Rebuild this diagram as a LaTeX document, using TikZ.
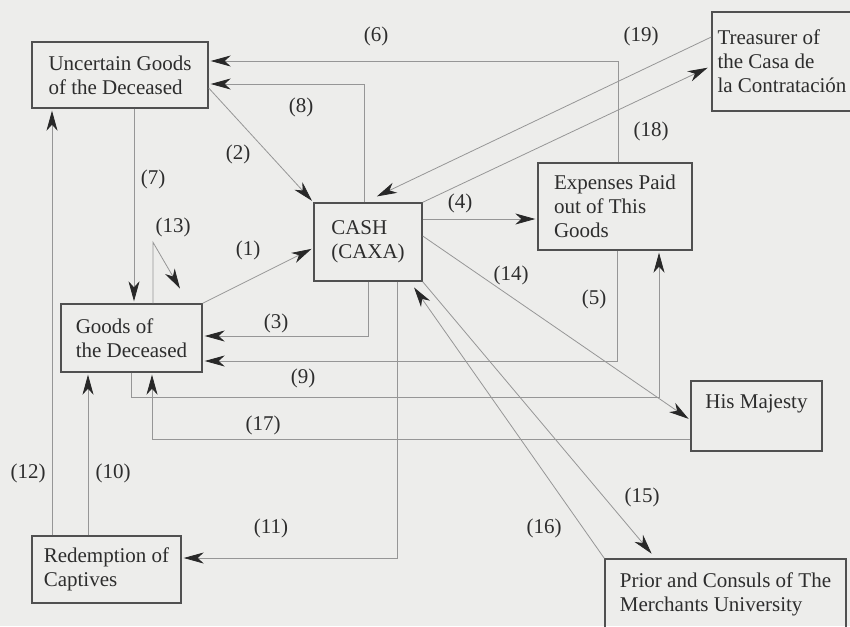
\documentclass[tikz,border=0pt]{standalone}
\usepackage{fontspec}
\setmainfont{Liberation Serif}
\usetikzlibrary{arrows.meta,positioning}
\definecolor{paper}{RGB}{237,237,235}
\definecolor{boxgray}{RGB}{80,80,80}
\definecolor{linegray}{RGB}{150,150,150}
\definecolor{tipgray}{RGB}{40,40,40}
\definecolor{inkgray}{RGB}{45,45,45}

\begin{document}
\begin{tikzpicture}[x=1pt,y=-1pt,>={Stealth[length=20pt,width=11pt,inset=6pt,color=tipgray]},
  every node/.style={text=inkgray,font=\fontsize{21}{24}\selectfont},
  account/.style={draw=boxgray,line width=1.4pt,align=left,inner sep=0pt},
  flow/.style={->,draw=linegray,line width=0.8pt,shorten >=2pt}]
\useasboundingbox (0,0) rectangle (850,626);
\fill[paper] (0,0) rectangle (850,626);

% accounts
\node[account,minimum width=176pt,minimum height=66pt] (ugd) at (120,75) {Uncertain Goods\\of the Deceased};
\node[account,minimum width=108pt,minimum height=78pt] (cash) at (368,242) {CASH\\(CAXA)};
\node[account,minimum width=141pt,minimum height=68pt] (gd) at (131.5,338) {Goods of\\the Deceased};
\node[account,minimum width=154pt,minimum height=87pt] (exp) at (615,206.5) {Expenses Paid\\out of This\\Goods};
\node[account,minimum width=140pt,minimum height=99pt] (tres) at (782,61.5) {Treasurer of\\the Casa de\\la Contratación};
\node[account,minimum width=131pt,minimum height=70pt,text depth=28pt] (maj) at (756.5,416) {His Majesty};
\node[account,minimum width=241pt,minimum height=70pt] (pc) at (725.5,594) {Prior and Consuls of The\\Merchants University};
\node[account,minimum width=149pt,minimum height=67pt] (rc) at (106.5,569.5) {Redemption of\\Captives};

% flows
\draw[flow] (gd.north east) -- ([yshift=-6pt]cash.west);
\draw[flow] ([yshift=-13pt]ugd.east) -- (cash.north west);
\draw[flow] (cash.south) |- ([yshift=2pt]gd.east);
\draw[flow] ([yshift=23pt]cash.east) -- ([yshift=-12.5pt]exp.west);
\draw[flow] ([xshift=2pt]exp.south) |- ([yshift=-23pt]gd.east);
\draw[flow] ([xshift=3pt]exp.north) |- ([yshift=14pt]ugd.east);
\draw[flow] ([xshift=14pt]ugd.south) -- ([xshift=14pt]ugd.south |- gd.north);
\draw[flow] ([xshift=-4pt]cash.north) |- ([yshift=-9pt]ugd.east);
\draw[flow] ([xshift=-0.5pt]gd.south) -- ++(0,25) -| ([xshift=44pt]exp.south);
\draw[flow] ([xshift=-18.5pt]rc.north) -- ([xshift=-18.5pt]rc.north |- gd.south);
\draw[flow] ([xshift=29pt]cash.south) |- ([yshift=11.5pt]rc.east);
\draw[flow] ([xshift=-54.5pt]rc.north) -- ([xshift=-54.5pt]rc.north |- ugd.south);
\draw[flow] ([xshift=21.5pt]gd.north) -- ++(0,-61) -- ([xshift=49.5pt,yshift=13pt]gd.north);
\draw[flow] ([yshift=6pt]cash.east) -- ([yshift=-4pt]maj.west);
\draw[flow,shorten >=6pt] (cash.south east) -- ([xshift=-70pt]pc.north);
\draw[flow,shorten >=7pt] (pc.north west) -- ([xshift=42pt]cash.south);
\draw[flow] ([yshift=-23pt]maj.west) -| ([xshift=20.5pt]gd.south);
\draw[flow,shorten >=4pt] (cash.north east) -- ([yshift=-4.5pt]tres.west);
\draw[flow] ([yshift=24.5pt]tres.west) -- ([xshift=7pt,yshift=5pt]cash.north);

% flow numbers
\node (n1) at (248,250) {(1)};
\node (n2) at (238,154) {(2)};
\node (n3) at (276,323) {(3)};
\node (n4) at (460,203) {(4)};
\node (n5) at (594,299) {(5)};
\node (n6) at (376,36) {(6)};
\node (n7) at (153,179) {(7)};
\node (n8) at (301,107) {(8)};
\node (n9) at (303,378) {(9)};
\node (n10) at (113,473) {(10)};
\node (n11) at (271,528) {(11)};
\node (n12) at (28,473) {(12)};
\node (n13) at (173,227) {(13)};
\node (n14) at (511,275) {(14)};
\node (n15) at (642,497) {(15)};
\node (n16) at (544,528) {(16)};
\node (n17) at (263,425) {(17)};
\node (n18) at (651,131) {(18)};
\node (n19) at (641,36) {(19)};
\end{tikzpicture}
\end{document}
